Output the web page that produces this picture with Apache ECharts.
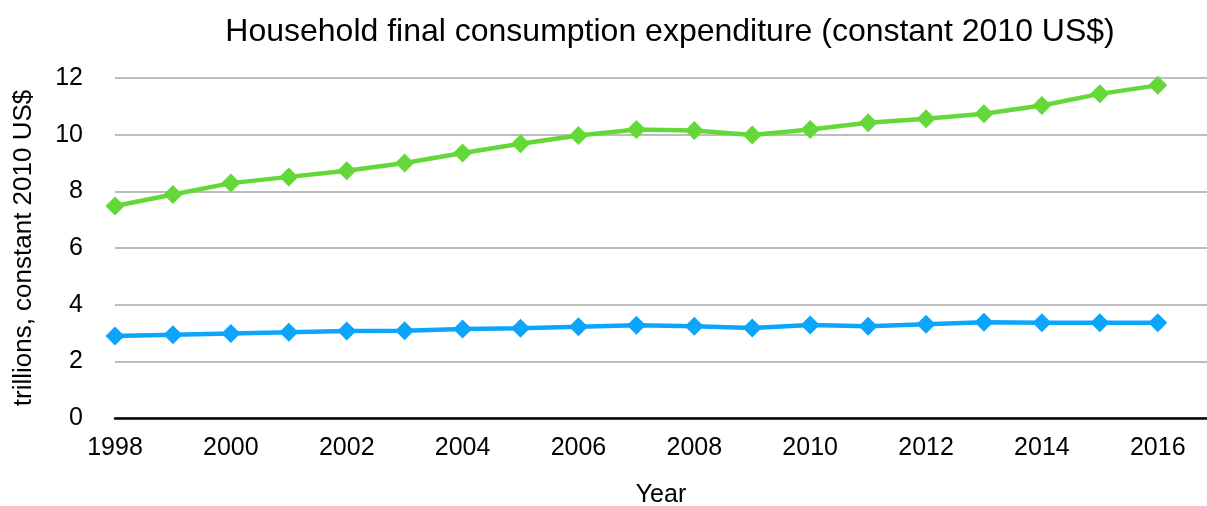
<!DOCTYPE html>
<html>
<head>
<meta charset="utf-8">
<script src="https://cdn.jsdelivr.net/npm/echarts@6/dist/echarts.min.js"></script>
<style>
  html, body { margin: 0; padding: 0; background: #fff; overflow: hidden; }
  #chart { width: 100vw; height: 100vh; }
</style>
</head>
<body>
<div id="chart"></div>
<script>
const years = [1998, 1999, 2000, 2001, 2002, 2003, 2004, 2005, 2006, 2007,
               2008, 2009, 2010, 2011, 2012, 2013, 2014, 2015, 2016]
// trillions, constant 2010 US$
const greenValues = [7.48, 7.89, 8.29, 8.51, 8.73, 9.0, 9.35, 9.68, 9.97, 10.18,
                     10.15, 9.99, 10.18, 10.42, 10.56, 10.74, 11.03, 11.44, 11.74]
const blueValues = [2.89, 2.94, 2.98, 3.03, 3.07, 3.08, 3.14, 3.17, 3.22, 3.27,
                    3.24, 3.18, 3.28, 3.24, 3.31, 3.38, 3.36, 3.36, 3.36]
const yTicks = [0, 2, 4, 6, 8, 10, 12]

const font = '"Liberation Sans", Arial, sans-serif'
const myChart = echarts.init(document.getElementById('chart'))

const pairs = (vals) => years.map((y, i) => [y, vals[i]])

const lineSeries = (vals, color) => ({
    type: 'line',
    data: pairs(vals),
    symbol: 'diamond',
    symbolSize: 19,
    lineStyle: { color: color, width: 4.5 },
    itemStyle: { color: color },
    animation: false
})

myChart.setOption({
    backgroundColor: '#fff',
    textStyle: { fontFamily: font },
    title: {
        text: 'Household final consumption expenditure (constant 2010 US$)',
        left: 665,
        textAlign: 'center',
        top: 11,
        textStyle: { fontFamily: font, fontSize: 32, fontWeight: 'normal', color: '#000' }
    },
    grid: { left: 115, right: 0, top: 78, bottom: 88, containLabel: false, outerBoundsMode: 'none' },
    xAxis: {
        type: 'value',
        min: 1998,
        max: 2016.85,
        interval: 2,
        name: 'Year',
        nameLocation: 'middle',
        nameGap: 65,
        nameTextStyle: { fontFamily: font, fontSize: 25, color: '#000' },
        axisLine: { lineStyle: { color: '#000', width: 2.5 } },
        axisTick: { show: false },
        splitLine: { show: false },
        axisLabel: {
            fontFamily: font, fontSize: 25, color: '#000', margin: 18,
            showMaxLabel: false,
            formatter: (v) => (Number.isInteger(v) && v % 2 === 0) ? String(v) : ''
        }
    },
    yAxis: {
        type: 'value',
        min: yTicks[0],
        max: yTicks[yTicks.length - 1],
        interval: 2,
        name: 'trillions, constant 2010 US$',
        nameLocation: 'middle',
        nameRotate: 90,
        nameGap: 78,
        nameTextStyle: { fontFamily: font, fontSize: 26, color: '#000' },
        axisLine: { show: false },
        axisTick: { show: false },
        axisLabel: { fontFamily: font, fontSize: 25, color: '#000', margin: 32 },
        splitLine: { lineStyle: { color: '#bdbdbd', width: 2 } }
    },
    series: [
        lineSeries(blueValues, '#0ba5fb'),
        lineSeries(greenValues, '#64d838')
    ]
})
</script>
</body>
</html>
